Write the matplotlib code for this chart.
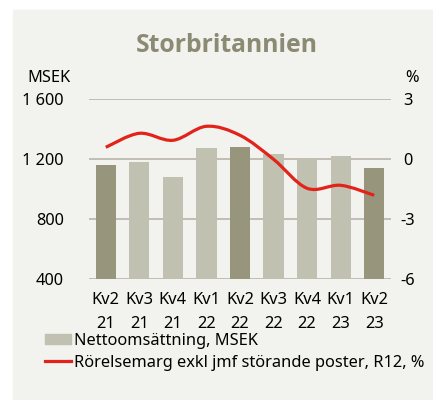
import numpy as np
import matplotlib.pyplot as plt
from matplotlib.path import Path
from matplotlib.patches import PathPatch, Rectangle
from matplotlib.lines import Line2D

quarters = ["Kv2\n21", "Kv3\n21", "Kv4\n21", "Kv1\n22", "Kv2\n22",
            "Kv3\n22", "Kv4\n22", "Kv1\n23", "Kv2\n23"]
sales = [1162, 1182, 1080, 1277, 1284, 1237, 1202, 1224, 1142]
margin = [0.6, 1.3, 0.95, 1.65, 1.2, 0.0, -1.45, -1.3, -1.8]
left_ticks = [400, 800, 1200, 1600]
left_labels = ["400", "800", "1 200", "1 600"]
right_ticks = [-6, -3, 0, 3]

DARK = "#97967D"
LIGHT = "#C1C1B1"
RED = "#E2231A"
GRID = "#BDB9B0"
BG = "#F2F2EE"

plt.rcParams['font.family'] = ['Noto Sans', 'DejaVu Sans']
plt.rcParams['font.size'] = 11.8
plt.rcParams['axes.unicode_minus'] = False

fig = plt.figure(figsize=(4.33, 4.0), dpi=100)
fig.patches.append(Rectangle((13 / 433, 0), 1, 1 - 10 / 400, transform=fig.transFigure,
                             color=BG, zorder=-10))

ax = fig.add_axes([89 / 433, 0.30175, 302 / 433, 0.45])
ax.set_facecolor("none")
x = np.arange(len(quarters))
colors = [DARK if q.startswith("Kv2") else LIGHT for q in quarters]
ax.bar(x, sales, width=0.6, color=colors, zorder=2)
ax.set_xlim(-0.5, len(quarters) - 0.5)
ax.set_ylim(400, 1600)
ax.set_yticks(left_ticks)
ax.set_yticklabels(left_labels)
ax.grid(axis='y', color=GRID, linewidth=1.3, zorder=0)
for s in ax.spines.values():
    s.set_visible(False)
ax.tick_params(axis='y', length=0, pad=18)
ax.tick_params(axis='x', length=0, pad=9)
ax.set_xticks(x)
ax.set_xticklabels(quarters, linespacing=1.7)

ax2 = ax.twinx()
ax2.set_ylim(-6, 3)
ax2.set_yticks(right_ticks)
for s in ax2.spines.values():
    s.set_visible(False)
ax2.tick_params(axis='y', length=0, pad=12)
for lab in ax2.get_yticklabels():
    lab.set_horizontalalignment('center')

# smoothed line (Catmull-Rom style bezier through data points)
pts = np.column_stack([x, margin]).astype(float)
verts = [tuple(pts[0])]
codes = [Path.MOVETO]
for i in range(len(pts) - 1):
    p0 = pts[i - 1] if i > 0 else pts[i]
    p1 = pts[i]
    p2 = pts[i + 1]
    p3 = pts[i + 2] if i + 2 < len(pts) else pts[i + 1]
    c1 = p1 + (p2 - p0) / 6
    c2 = p2 - (p3 - p1) / 6
    verts += [tuple(c1), tuple(c2), tuple(p2)]
    codes += [Path.CURVE4] * 3
ax2.add_patch(PathPatch(Path(verts, codes), facecolor='none', edgecolor=RED,
                        linewidth=2.3, capstyle='butt', zorder=3))

fig.text(227 / 433, 1 - 45 / 400, "Storbritannien", ha='center', va='center',
         fontsize=17.8, fontweight='bold', color="#8B8A72", family=['Open Sans', 'DejaVu Sans'])
fig.text(71 / 433, 1 - 78 / 400, "MSEK", ha='right', va='center')
fig.text(412 / 433, 1 - 78 / 400, "%", ha='center', va='center')

handles = [Rectangle((0, 0), 1, 1, color=LIGHT),
           Line2D([0], [0], color=RED, linewidth=2.3)]
fig.legend(handles, ["Nettoomsättning, MSEK", "Rörelsemarg exkl jmf störande poster, R12, %"],
           loc='upper left', bbox_to_anchor=(45 / 433, 1 - 333 / 400), frameon=False,
           handlelength=1.6, handleheight=0.6, handletextpad=0.2, labelspacing=0.35,
           borderaxespad=0, borderpad=0)

fig.savefig("out.png", dpi=100)
